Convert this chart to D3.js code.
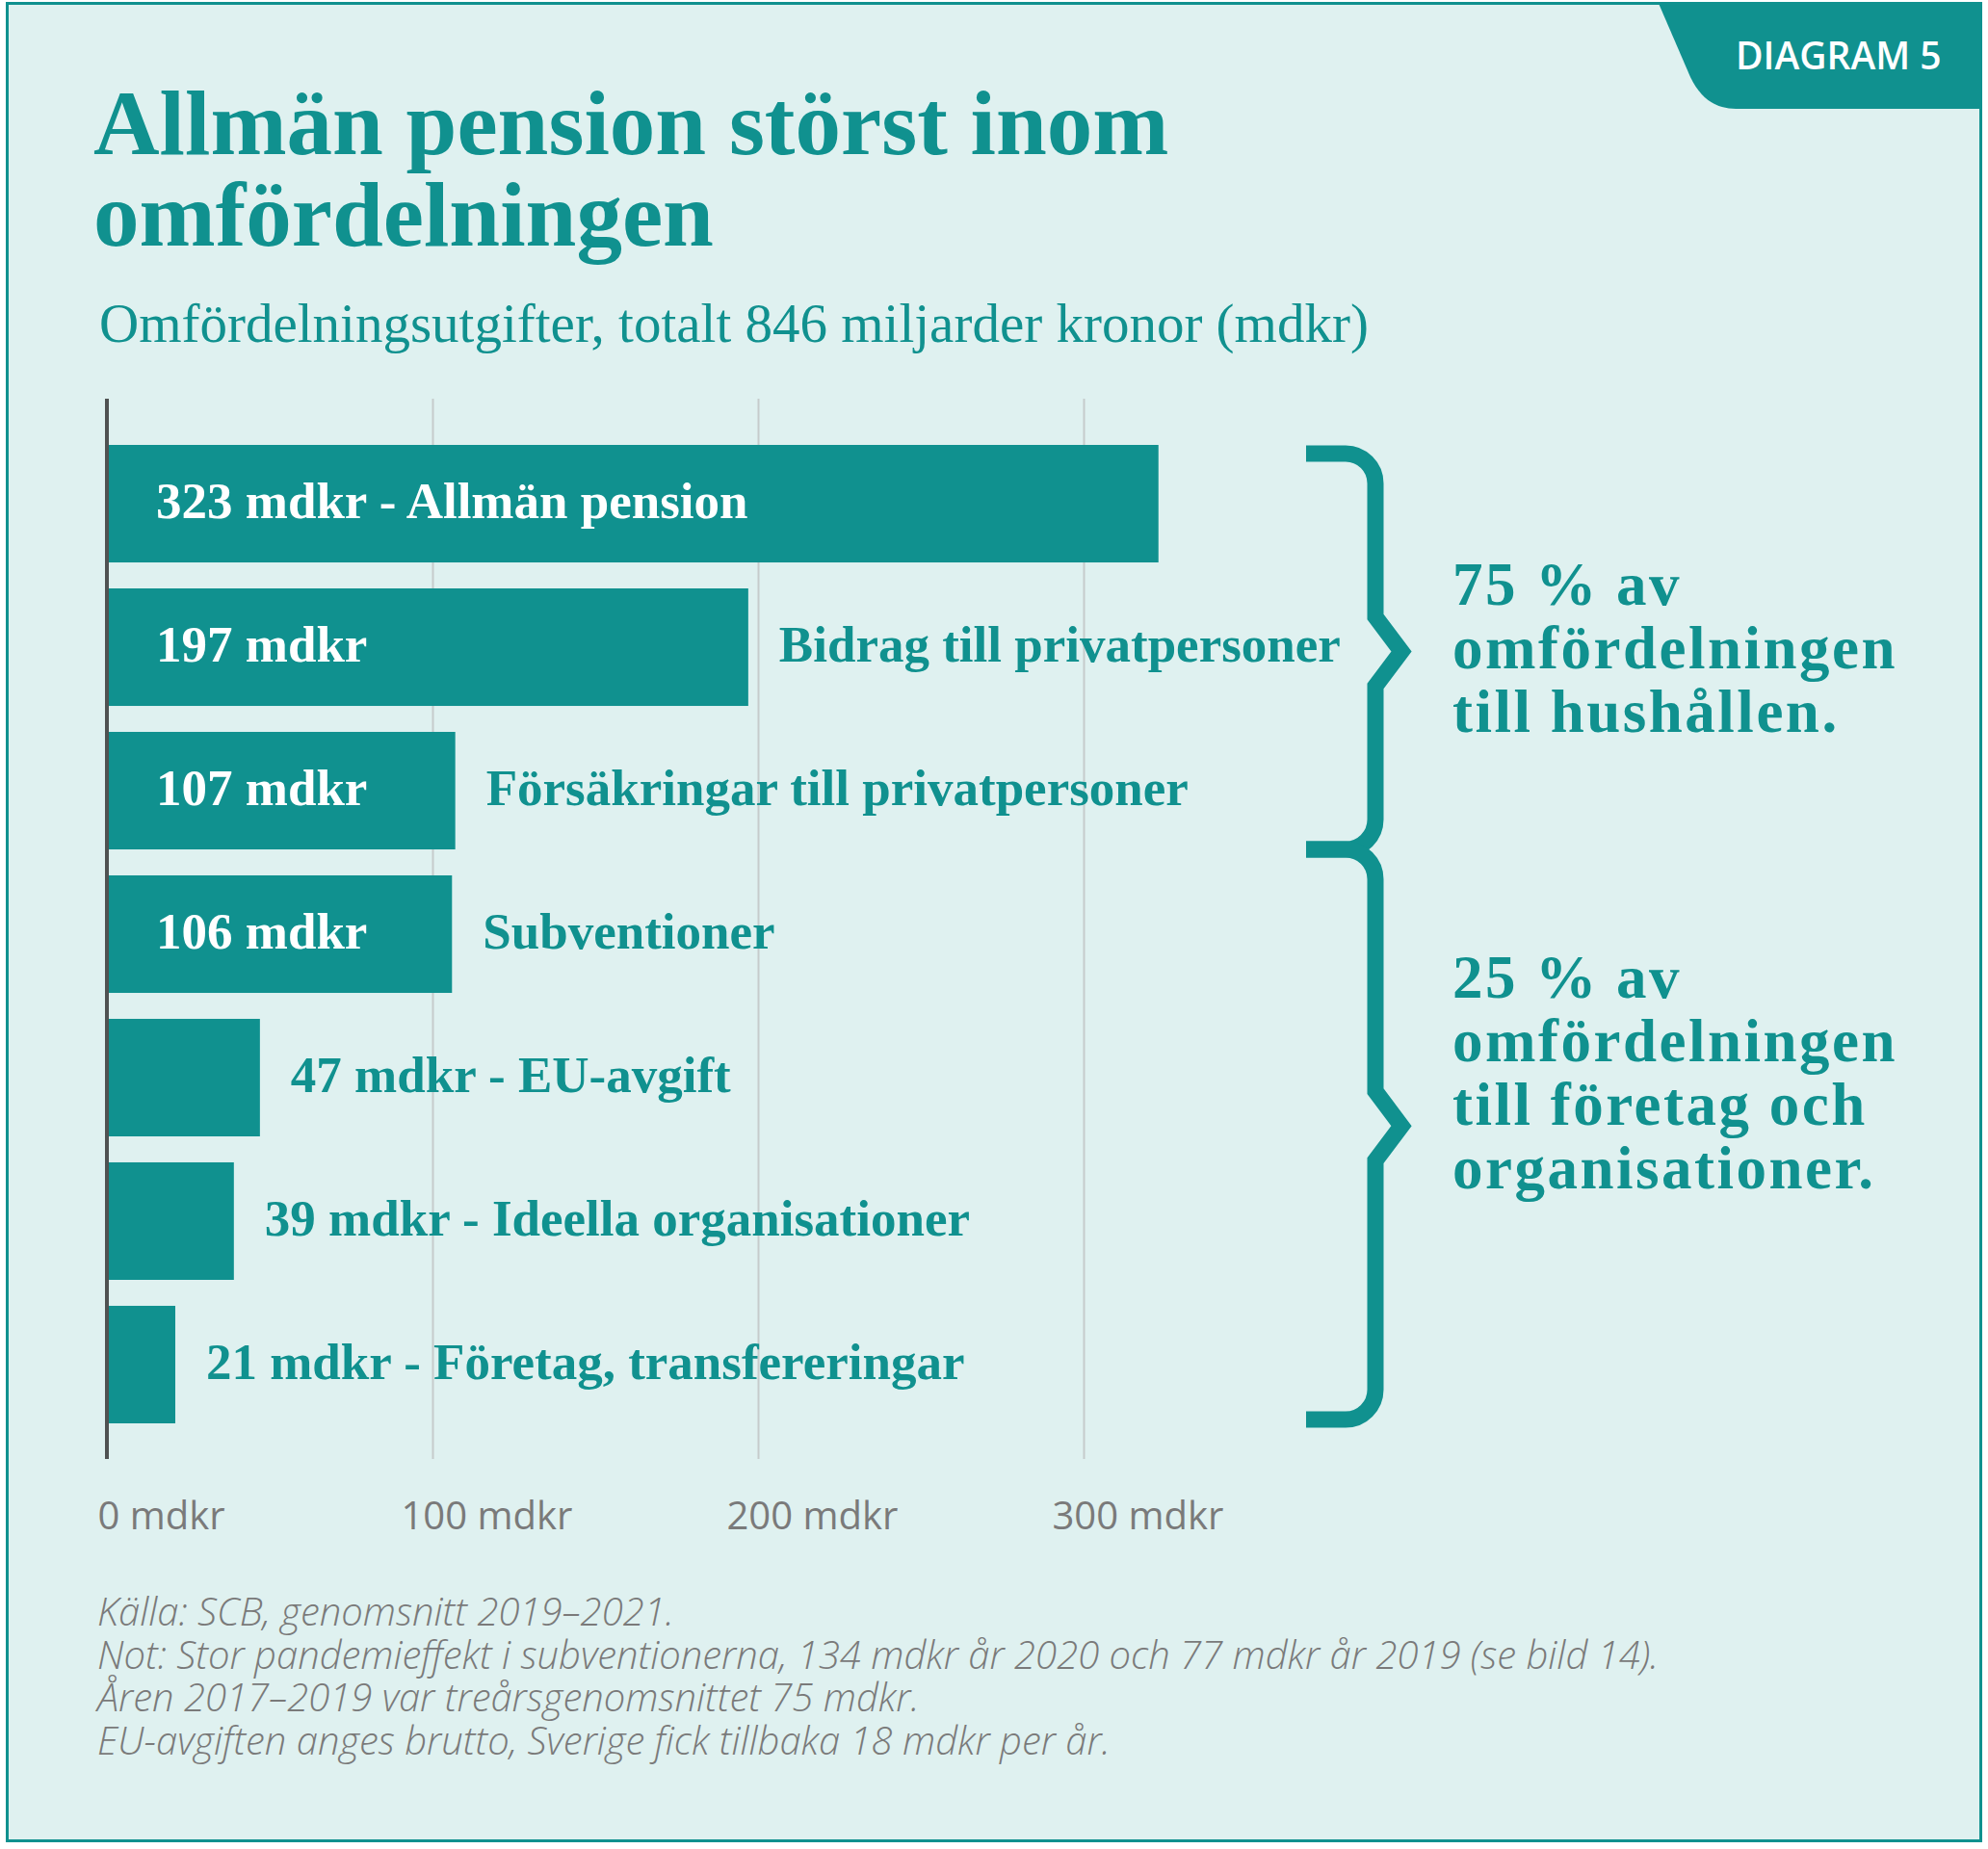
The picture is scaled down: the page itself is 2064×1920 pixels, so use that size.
<!DOCTYPE html>
<html>
<head>
<meta charset="utf-8">
<script src="https://cdn.jsdelivr.net/npm/d3@7/dist/d3.min.js"></script>
<style>
body { margin: 0; background: #ffffff; }
</style>
</head>
<body>
<div id="chartContainer"></div>
<script>
// Data
var categories = ['Allmän pension', 'Bidrag till privatpersoner', 'Försäkringar till privatpersoner',
    'Subventioner', 'EU-avgift', 'Ideella organisationer', 'Företag, transfereringar'];
var values = [323, 197, 107, 106, 47, 39, 21];
var tickValues = [0, 100, 200, 300];
var unit = 'mdkr';

// Braces: first and last category of each group, with the text beside it
var groupFirst = [0, 3];
var groupLast = [2, 6];
var groupTexts = [
    ['75 % av', 'omfördelningen', 'till hushållen.'],
    ['25 % av', 'omfördelningen', 'till företag och', 'organisationer.']
];

var title = ['Allmän pension störst inom', 'omfördelningen'];
var subtitle = 'Omfördelningsutgifter, totalt 846 miljarder kronor (mdkr)';
var badge = 'DIAGRAM 5';
var notes = [
    'Källa: SCB, genomsnitt 2019–2021.',
    'Not: Stor pandemieffekt i subventionerna, 134 mdkr år 2020 och 77 mdkr år 2019 (se bild 14).',
    'Åren 2017–2019 var treårsgenomsnittet 75 mdkr.',
    'EU-avgiften anges brutto, Sverige fick tillbaka 18 mdkr per år.'
];

var width = 2064;
var height = 1920;

var teal = '#10918f';
var background = '#dff1f0';
var grey = '#7a7a7a';
var serif = "'Liberation Serif', 'Times New Roman', serif";
var sans = "'Open Sans', 'Noto Sans', sans-serif";

var plotTop = 414;
var plotBottom = 1515;

var x = d3.scaleLinear().domain([0, 300]).range([111, 1125]);
var y = d3.scaleBand().domain(categories).range([462, 1478]).paddingInner(0.181).paddingOuter(0);

var svg = d3.select('#chartContainer').append('svg')
    .attr('width', width)
    .attr('height', height);

// Frame
svg.append('rect')
    .attr('x', 7.5).attr('y', 3.5)
    .attr('width', 2049).attr('height', 1908)
    .attr('fill', background)
    .attr('stroke', teal)
    .attr('stroke-width', 3);

// Badge in the corner
svg.append('path')
    .attr('d', 'M1722,3.5 L1755,80 C1768,107 1785,113 1806,113 L2058,113 L2058,3.5 Z')
    .attr('fill', teal);

svg.append('text')
    .attr('x', 1802).attr('y', 72)
    .attr('font-family', sans).attr('font-weight', 600).attr('font-size', '39px')
    .attr('fill', '#ffffff')
    .text(badge);

// Titles
svg.append('g').selectAll('text')
    .data(title)
    .enter().append('text')
    .attr('x', 97)
    .attr('y', function (d, i) { return 160 + i * 95; })
    .attr('font-family', serif).attr('font-weight', 700).attr('font-size', '95px')
    .attr('fill', teal)
    .text(function (d) { return d; });

svg.append('text')
    .attr('x', 103).attr('y', 355)
    .attr('font-family', serif).attr('font-size', '57px')
    .attr('fill', teal)
    .text(subtitle);

// Axis with gridlines
var axis = d3.axisBottom(x)
    .tickValues(tickValues)
    .tickSize(-(plotBottom - plotTop))
    .tickFormat(function (d) { return d + ' ' + unit; });

var axisGroup = svg.append('g')
    .attr('transform', 'translate(0,' + plotBottom + ')')
    .call(axis);

axisGroup.select('.domain').remove();
axisGroup.selectAll('.tick line')
    .attr('stroke', '#c6cbcb')
    .attr('stroke-width', 2);
axisGroup.selectAll('.tick text')
    .attr('y', 73).attr('dy', 0)
    .attr('x', function (d) { return d === 0 ? -10 : -33; })
    .attr('text-anchor', 'start')
    .attr('font-family', sans).attr('font-size', '40px')
    .attr('fill', grey);

var rows = categories.map(function (c, i) {
    return { name: c, value: values[i] };
});

// Bars
svg.append('g').selectAll('rect')
    .data(rows)
    .enter().append('rect')
    .attr('x', x(0))
    .attr('y', function (d) { return y(d.name); })
    .attr('width', function (d) { return x(d.value) - x(0); })
    .attr('height', y.bandwidth())
    .attr('fill', teal);

// Value axis line
svg.append('line')
    .attr('x1', x(0)).attr('x2', x(0))
    .attr('y1', plotTop).attr('y2', plotBottom)
    .attr('stroke', '#4f5252')
    .attr('stroke-width', 4);

// Labels: long bars hold the value inside, short bars have everything outside
function labelY(d) {
    return y(d.name) + y.bandwidth() / 2 + 15;
}

var labels = svg.append('g')
    .attr('font-family', serif).attr('font-weight', 700).attr('font-size', '53px');

labels.selectAll('.insideLabel')
    .data(rows.filter(function (d) { return d.value > 100; }))
    .enter().append('text')
    .attr('class', 'insideLabel')
    .attr('x', x(0) + 51)
    .attr('y', labelY)
    .attr('fill', '#ffffff')
    .text(function (d) {
        var text = d.value + ' ' + unit;
        return d.value > 300 ? text + ' - ' + d.name : text;
    });

labels.selectAll('.outsideLabel')
    .data(rows.filter(function (d) { return d.value <= 300; }))
    .enter().append('text')
    .attr('class', 'outsideLabel')
    .attr('x', function (d) { return x(d.value) + 32; })
    .attr('y', labelY)
    .attr('fill', teal)
    .text(function (d) {
        return d.value > 100 ? d.name : d.value + ' ' + unit + ' - ' + d.name;
    });

// Braces
var braceLeft = 1356;
var braceStem = 1428;
var braceTip = 1455;
var braceRadius = 31;

function bracePath(top, bottom, tipY) {
    return 'M' + braceLeft + ',' + top +
        ' H' + (braceStem - braceRadius) +
        ' A' + braceRadius + ',' + braceRadius + ' 0 0 1 ' + braceStem + ',' + (top + braceRadius) +
        ' V' + (tipY - 36) +
        ' L' + braceTip + ',' + tipY +
        ' L' + braceStem + ',' + (tipY + 36) +
        ' V' + (bottom - braceRadius) +
        ' A' + braceRadius + ',' + braceRadius + ' 0 0 1 ' + (braceStem - braceRadius) + ',' + bottom +
        ' H' + braceLeft;
}

var braceTops = [y(categories[groupFirst[0]]) + 9, y(categories[groupFirst[1]]) - y.step() + y.bandwidth()];
var braceBottoms = [y(categories[groupLast[0]]) + y.bandwidth(), y(categories[groupLast[1]]) + y.bandwidth() - 4];
var tipShare = [0.5, 0.485];
var textTop = [628, 1036];

groupTexts.forEach(function (lines, g) {
    var top = braceTops[g];
    var bottom = braceBottoms[g];
    svg.append('path')
        .attr('d', bracePath(top, bottom, top + (bottom - top) * tipShare[g]))
        .attr('fill', 'none')
        .attr('stroke', teal)
        .attr('stroke-width', 17)
        .attr('stroke-linejoin', 'miter');

    svg.append('g').selectAll('text')
        .data(lines)
        .enter().append('text')
        .attr('x', 1508)
        .attr('y', function (d, i) { return textTop[g] + i * 66; })
        .attr('font-family', serif).attr('font-weight', 700).attr('font-size', '63px')
        .attr('letter-spacing', '2.5px')
        .attr('fill', teal)
        .text(function (d) { return d; });
});

// Source and notes
svg.append('g').selectAll('text')
    .data(notes)
    .enter().append('text')
    .attr('x', 101)
    .attr('y', function (d, i) { return 1688 + i * 44.7; })
    .attr('font-family', sans).attr('font-style', 'italic').attr('font-weight', 300).attr('font-size', '40px')
    .attr('fill', grey)
    .text(function (d) { return d; });
</script>
</body>
</html>
